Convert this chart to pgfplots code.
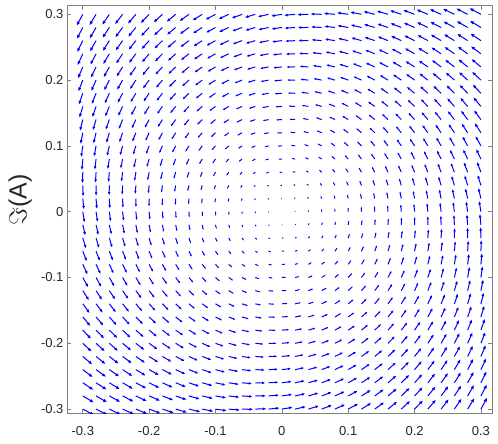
\documentclass[border=0pt]{standalone}
\usepackage{fontspec}
\setmainfont{Liberation Sans}
\usepackage{pgfplots}
\pgfplotsset{compat=1.18}
\usetikzlibrary{arrows.meta}

% field sampled on a 31x31 grid, step 0.02 (u, v in grid units)
\pgfplotstableread{
x y u v
0.02 0 -0.03 1.00
0.04 0 -0.06 2.00
0.06 0 -0.11 2.98
0.08 0 -0.16 3.96
0.10 0 -0.22 4.92
0.12 0 -0.30 5.86
0.14 0 -0.40 6.77
0.16 0 -0.52 7.66
0.18 0 -0.67 8.51
0.20 0 -0.84 9.33
0.22 0 -1.04 10.11
0.24 0 -1.26 10.85
0.26 0 -1.52 11.53
0.28 0 -1.80 12.17
0.30 0 -2.10 12.75
0.02 0.02 -1.03 0.97
0.04 0.02 -1.06 1.96
0.06 0.02 -1.10 2.94
0.08 0.02 -1.15 3.92
0.10 0.02 -1.21 4.87
0.12 0.02 -1.28 5.80
0.14 0.02 -1.37 6.71
0.16 0.02 -1.49 7.59
0.18 0.02 -1.62 8.43
0.20 0.02 -1.78 9.24
0.22 0.02 -1.96 10.01
0.24 0.02 -2.17 10.73
0.26 0.02 -2.41 11.41
0.28 0.02 -2.67 12.03
0.30 0.02 -2.96 12.60
0.02 0.04 -2.03 0.93
0.04 0.04 -2.06 1.92
0.06 0.04 -2.10 2.90
0.08 0.04 -2.14 3.86
0.10 0.04 -2.19 4.81
0.12 0.04 -2.26 5.74
0.14 0.04 -2.35 6.63
0.16 0.04 -2.45 7.50
0.18 0.04 -2.57 8.34
0.20 0.04 -2.72 9.13
0.22 0.04 -2.89 9.89
0.24 0.04 -3.09 10.60
0.26 0.04 -3.31 11.26
0.28 0.04 -3.55 11.87
0.30 0.04 -3.82 12.42
0.02 0.06 -3.02 0.89
0.04 0.06 -3.05 1.87
0.06 0.06 -3.09 2.84
0.08 0.06 -3.13 3.80
0.10 0.06 -3.18 4.74
0.12 0.06 -3.24 5.65
0.14 0.06 -3.32 6.54
0.16 0.06 -3.42 7.40
0.18 0.06 -3.53 8.22
0.20 0.06 -3.67 9.01
0.22 0.06 -3.82 9.75
0.24 0.06 -4.01 10.45
0.26 0.06 -4.21 11.09
0.28 0.06 -4.44 11.69
0.30 0.06 -4.69 12.22
0.02 0.08 -3.99 0.83
0.04 0.08 -4.03 1.81
0.06 0.08 -4.07 2.77
0.08 0.08 -4.11 3.72
0.10 0.08 -4.16 4.65
0.12 0.08 -4.22 5.56
0.14 0.08 -4.29 6.43
0.16 0.08 -4.38 7.28
0.18 0.08 -4.48 8.09
0.20 0.08 -4.61 8.86
0.22 0.08 -4.76 9.59
0.24 0.08 -4.92 10.27
0.26 0.08 -5.11 10.90
0.28 0.08 -5.32 11.48
0.30 0.08 -5.55 12.00
0.02 0.10 -4.96 0.76
0.04 0.10 -5.00 1.73
0.06 0.10 -5.03 2.69
0.08 0.10 -5.08 3.63
0.10 0.10 -5.12 4.54
0.12 0.10 -5.18 5.44
0.14 0.10 -5.25 6.30
0.16 0.10 -5.33 7.13
0.18 0.10 -5.43 7.93
0.20 0.10 -5.55 8.68
0.22 0.10 -5.68 9.40
0.24 0.10 -5.83 10.06
0.26 0.10 -6.01 10.68
0.28 0.10 -6.20 11.24
0.30 0.10 -6.41 11.75
0.02 0.12 -5.90 0.67
0.04 0.12 -5.95 1.63
0.06 0.12 -5.99 2.58
0.08 0.12 -6.03 3.51
0.10 0.12 -6.08 4.41
0.12 0.12 -6.13 5.29
0.14 0.12 -6.19 6.14
0.16 0.12 -6.27 6.96
0.18 0.12 -6.36 7.74
0.20 0.12 -6.47 8.48
0.22 0.12 -6.59 9.18
0.24 0.12 -6.74 9.83
0.26 0.12 -6.90 10.43
0.28 0.12 -7.07 10.97
0.30 0.12 -7.27 11.46
0.02 0.14 -6.82 0.56
0.04 0.14 -6.87 1.51
0.06 0.14 -6.92 2.45
0.08 0.14 -6.96 3.36
0.10 0.14 -7.01 4.26
0.12 0.14 -7.06 5.13
0.14 0.14 -7.12 5.96
0.16 0.14 -7.20 6.76
0.18 0.14 -7.28 7.53
0.20 0.14 -7.38 8.25
0.22 0.14 -7.49 8.93
0.24 0.14 -7.62 9.56
0.26 0.14 -7.77 10.15
0.28 0.14 -7.93 10.67
0.30 0.14 -8.10 11.14
0.02 0.16 -7.72 0.43
0.04 0.16 -7.77 1.37
0.06 0.16 -7.82 2.29
0.08 0.16 -7.87 3.20
0.10 0.16 -7.92 4.08
0.12 0.16 -7.97 4.93
0.14 0.16 -8.03 5.75
0.16 0.16 -8.10 6.54
0.18 0.16 -8.18 7.28
0.20 0.16 -8.27 7.99
0.22 0.16 -8.37 8.65
0.24 0.16 -8.49 9.27
0.26 0.16 -8.62 9.83
0.28 0.16 -8.76 10.34
0.30 0.16 -8.92 10.79
0.02 0.18 -8.58 0.27
0.04 0.18 -8.64 1.20
0.06 0.18 -8.70 2.11
0.08 0.18 -8.75 3.00
0.10 0.18 -8.80 3.86
0.12 0.18 -8.85 4.70
0.14 0.18 -8.91 5.51
0.16 0.18 -8.97 6.27
0.18 0.18 -9.05 7.01
0.20 0.18 -9.13 7.69
0.22 0.18 -9.22 8.34
0.24 0.18 -9.33 8.94
0.26 0.18 -9.45 9.48
0.28 0.18 -9.57 9.97
0.30 0.18 -9.71 10.40
0.02 0.20 -9.41 0.09
0.04 0.20 -9.48 1.00
0.06 0.20 -9.54 1.90
0.08 0.20 -9.59 2.77
0.10 0.20 -9.65 3.62
0.12 0.20 -9.70 4.44
0.14 0.20 -9.76 5.23
0.16 0.20 -9.82 5.98
0.18 0.20 -9.89 6.69
0.20 0.20 -9.96 7.36
0.22 0.20 -10.05 7.99
0.24 0.20 -10.14 8.57
0.26 0.20 -10.24 9.09
0.28 0.20 -10.35 9.57
0.30 0.20 -10.47 9.98
0.02 0.22 -10.20 -0.12
0.04 0.22 -10.27 0.77
0.06 0.22 -10.34 1.66
0.08 0.22 -10.40 2.51
0.10 0.22 -10.46 3.35
0.12 0.22 -10.51 4.15
0.14 0.22 -10.57 4.92
0.16 0.22 -10.63 5.65
0.18 0.22 -10.69 6.35
0.20 0.22 -10.76 7.00
0.22 0.22 -10.84 7.61
0.24 0.22 -10.92 8.17
0.26 0.22 -11.01 8.67
0.28 0.22 -11.10 9.13
0.30 0.22 -11.20 9.52
0.02 0.24 -10.94 -0.37
0.04 0.24 -11.03 0.52
0.06 0.24 -11.10 1.38
0.08 0.24 -11.17 2.22
0.10 0.24 -11.23 3.04
0.12 0.24 -11.29 3.82
0.14 0.24 -11.34 4.57
0.16 0.24 -11.40 5.29
0.18 0.24 -11.46 5.97
0.20 0.24 -11.52 6.60
0.22 0.24 -11.59 7.19
0.24 0.24 -11.66 7.73
0.26 0.24 -11.73 8.22
0.28 0.24 -11.81 8.65
0.30 0.24 -11.88 9.03
0.02 0.26 -11.64 -0.64
0.04 0.26 -11.73 0.23
0.06 0.26 -11.82 1.08
0.08 0.26 -11.89 1.90
0.10 0.26 -11.95 2.70
0.12 0.26 -12.01 3.46
0.14 0.26 -12.07 4.20
0.16 0.26 -12.12 4.89
0.18 0.26 -12.18 5.55
0.20 0.26 -12.23 6.16
0.22 0.26 -12.29 6.73
0.24 0.26 -12.35 7.25
0.26 0.26 -12.41 7.72
0.28 0.26 -12.47 8.14
0.30 0.26 -12.52 8.50
0.02 0.28 -12.29 -0.93
0.04 0.28 -12.39 -0.09
0.06 0.28 -12.48 0.74
0.08 0.28 -12.56 1.54
0.10 0.28 -12.63 2.32
0.12 0.28 -12.69 3.07
0.14 0.28 -12.75 3.78
0.16 0.28 -12.80 4.46
0.18 0.28 -12.85 5.10
0.20 0.28 -12.90 5.69
0.22 0.28 -12.95 6.24
0.24 0.28 -12.99 6.74
0.26 0.28 -13.03 7.19
0.28 0.28 -13.07 7.59
0.30 0.28 -13.11 7.94
0.02 0.30 -12.88 -1.26
0.04 0.30 -12.99 -0.43
0.06 0.30 -13.09 0.38
0.08 0.30 -13.17 1.16
0.10 0.30 -13.25 1.92
0.12 0.30 -13.31 2.64
0.14 0.30 -13.37 3.34
0.16 0.30 -13.42 3.99
0.18 0.30 -13.46 4.61
0.20 0.30 -13.51 5.19
0.22 0.30 -13.54 5.72
0.24 0.30 -13.58 6.20
0.26 0.30 -13.60 6.63
0.28 0.30 -13.63 7.02
0.30 0.30 -13.64 7.34
0 0.02 -1.00 -0.03
0 0.04 -2.00 -0.06
0 0.06 -2.98 -0.11
0 0.08 -3.96 -0.16
0 0.10 -4.92 -0.22
0 0.12 -5.86 -0.30
0 0.14 -6.77 -0.40
0 0.16 -7.66 -0.52
0 0.18 -8.51 -0.67
0 0.20 -9.33 -0.84
0 0.22 -10.11 -1.04
0 0.24 -10.85 -1.26
0 0.26 -11.53 -1.52
0 0.28 -12.17 -1.80
0 0.30 -12.75 -2.10
-0.02 0.02 -0.97 -1.03
-0.02 0.04 -1.96 -1.06
-0.02 0.06 -2.94 -1.10
-0.02 0.08 -3.92 -1.15
-0.02 0.10 -4.87 -1.21
-0.02 0.12 -5.80 -1.28
-0.02 0.14 -6.71 -1.37
-0.02 0.16 -7.59 -1.49
-0.02 0.18 -8.43 -1.62
-0.02 0.20 -9.24 -1.78
-0.02 0.22 -10.01 -1.96
-0.02 0.24 -10.73 -2.17
-0.02 0.26 -11.41 -2.41
-0.02 0.28 -12.03 -2.67
-0.02 0.30 -12.60 -2.96
-0.04 0.02 -0.93 -2.03
-0.04 0.04 -1.92 -2.06
-0.04 0.06 -2.90 -2.10
-0.04 0.08 -3.86 -2.14
-0.04 0.10 -4.81 -2.19
-0.04 0.12 -5.74 -2.26
-0.04 0.14 -6.63 -2.35
-0.04 0.16 -7.50 -2.45
-0.04 0.18 -8.34 -2.57
-0.04 0.20 -9.13 -2.72
-0.04 0.22 -9.89 -2.89
-0.04 0.24 -10.60 -3.09
-0.04 0.26 -11.26 -3.31
-0.04 0.28 -11.87 -3.55
-0.04 0.30 -12.42 -3.82
-0.06 0.02 -0.89 -3.02
-0.06 0.04 -1.87 -3.05
-0.06 0.06 -2.84 -3.09
-0.06 0.08 -3.80 -3.13
-0.06 0.10 -4.74 -3.18
-0.06 0.12 -5.65 -3.24
-0.06 0.14 -6.54 -3.32
-0.06 0.16 -7.40 -3.42
-0.06 0.18 -8.22 -3.53
-0.06 0.20 -9.01 -3.67
-0.06 0.22 -9.75 -3.82
-0.06 0.24 -10.45 -4.01
-0.06 0.26 -11.09 -4.21
-0.06 0.28 -11.69 -4.44
-0.06 0.30 -12.22 -4.69
-0.08 0.02 -0.83 -3.99
-0.08 0.04 -1.81 -4.03
-0.08 0.06 -2.77 -4.07
-0.08 0.08 -3.72 -4.11
-0.08 0.10 -4.65 -4.16
-0.08 0.12 -5.56 -4.22
-0.08 0.14 -6.43 -4.29
-0.08 0.16 -7.28 -4.38
-0.08 0.18 -8.09 -4.48
-0.08 0.20 -8.86 -4.61
-0.08 0.22 -9.59 -4.76
-0.08 0.24 -10.27 -4.92
-0.08 0.26 -10.90 -5.11
-0.08 0.28 -11.48 -5.32
-0.08 0.30 -12.00 -5.55
-0.10 0.02 -0.76 -4.96
-0.10 0.04 -1.73 -5.00
-0.10 0.06 -2.69 -5.03
-0.10 0.08 -3.63 -5.08
-0.10 0.10 -4.54 -5.12
-0.10 0.12 -5.44 -5.18
-0.10 0.14 -6.30 -5.25
-0.10 0.16 -7.13 -5.33
-0.10 0.18 -7.93 -5.43
-0.10 0.20 -8.68 -5.55
-0.10 0.22 -9.40 -5.68
-0.10 0.24 -10.06 -5.83
-0.10 0.26 -10.68 -6.01
-0.10 0.28 -11.24 -6.20
-0.10 0.30 -11.75 -6.41
-0.12 0.02 -0.67 -5.90
-0.12 0.04 -1.63 -5.95
-0.12 0.06 -2.58 -5.99
-0.12 0.08 -3.51 -6.03
-0.12 0.10 -4.41 -6.08
-0.12 0.12 -5.29 -6.13
-0.12 0.14 -6.14 -6.19
-0.12 0.16 -6.96 -6.27
-0.12 0.18 -7.74 -6.36
-0.12 0.20 -8.48 -6.47
-0.12 0.22 -9.18 -6.59
-0.12 0.24 -9.83 -6.74
-0.12 0.26 -10.43 -6.90
-0.12 0.28 -10.97 -7.07
-0.12 0.30 -11.46 -7.27
-0.14 0.02 -0.56 -6.82
-0.14 0.04 -1.51 -6.87
-0.14 0.06 -2.45 -6.92
-0.14 0.08 -3.36 -6.96
-0.14 0.10 -4.26 -7.01
-0.14 0.12 -5.13 -7.06
-0.14 0.14 -5.96 -7.12
-0.14 0.16 -6.76 -7.20
-0.14 0.18 -7.53 -7.28
-0.14 0.20 -8.25 -7.38
-0.14 0.22 -8.93 -7.49
-0.14 0.24 -9.56 -7.62
-0.14 0.26 -10.15 -7.77
-0.14 0.28 -10.67 -7.93
-0.14 0.30 -11.14 -8.10
-0.16 0.02 -0.43 -7.72
-0.16 0.04 -1.37 -7.77
-0.16 0.06 -2.29 -7.82
-0.16 0.08 -3.20 -7.87
-0.16 0.10 -4.08 -7.92
-0.16 0.12 -4.93 -7.97
-0.16 0.14 -5.75 -8.03
-0.16 0.16 -6.54 -8.10
-0.16 0.18 -7.28 -8.18
-0.16 0.20 -7.99 -8.27
-0.16 0.22 -8.65 -8.37
-0.16 0.24 -9.27 -8.49
-0.16 0.26 -9.83 -8.62
-0.16 0.28 -10.34 -8.76
-0.16 0.30 -10.79 -8.92
-0.18 0.02 -0.27 -8.58
-0.18 0.04 -1.20 -8.64
-0.18 0.06 -2.11 -8.70
-0.18 0.08 -3.00 -8.75
-0.18 0.10 -3.86 -8.80
-0.18 0.12 -4.70 -8.85
-0.18 0.14 -5.51 -8.91
-0.18 0.16 -6.27 -8.97
-0.18 0.18 -7.01 -9.05
-0.18 0.20 -7.69 -9.13
-0.18 0.22 -8.34 -9.22
-0.18 0.24 -8.94 -9.33
-0.18 0.26 -9.48 -9.45
-0.18 0.28 -9.97 -9.57
-0.18 0.30 -10.40 -9.71
-0.20 0.02 -0.09 -9.41
-0.20 0.04 -1.00 -9.48
-0.20 0.06 -1.90 -9.54
-0.20 0.08 -2.77 -9.59
-0.20 0.10 -3.62 -9.65
-0.20 0.12 -4.44 -9.70
-0.20 0.14 -5.23 -9.76
-0.20 0.16 -5.98 -9.82
-0.20 0.18 -6.69 -9.89
-0.20 0.20 -7.36 -9.96
-0.20 0.22 -7.99 -10.05
-0.20 0.24 -8.57 -10.14
-0.20 0.26 -9.09 -10.24
-0.20 0.28 -9.57 -10.35
-0.20 0.30 -9.98 -10.47
-0.22 0.02 0.12 -10.20
-0.22 0.04 -0.77 -10.27
-0.22 0.06 -1.66 -10.34
-0.22 0.08 -2.51 -10.40
-0.22 0.10 -3.35 -10.46
-0.22 0.12 -4.15 -10.51
-0.22 0.14 -4.92 -10.57
-0.22 0.16 -5.65 -10.63
-0.22 0.18 -6.35 -10.69
-0.22 0.20 -7.00 -10.76
-0.22 0.22 -7.61 -10.84
-0.22 0.24 -8.17 -10.92
-0.22 0.26 -8.67 -11.01
-0.22 0.28 -9.13 -11.10
-0.22 0.30 -9.52 -11.20
-0.24 0.02 0.37 -10.94
-0.24 0.04 -0.52 -11.03
-0.24 0.06 -1.38 -11.10
-0.24 0.08 -2.22 -11.17
-0.24 0.10 -3.04 -11.23
-0.24 0.12 -3.82 -11.29
-0.24 0.14 -4.57 -11.34
-0.24 0.16 -5.29 -11.40
-0.24 0.18 -5.97 -11.46
-0.24 0.20 -6.60 -11.52
-0.24 0.22 -7.19 -11.59
-0.24 0.24 -7.73 -11.66
-0.24 0.26 -8.22 -11.73
-0.24 0.28 -8.65 -11.81
-0.24 0.30 -9.03 -11.88
-0.26 0.02 0.64 -11.64
-0.26 0.04 -0.23 -11.73
-0.26 0.06 -1.08 -11.82
-0.26 0.08 -1.90 -11.89
-0.26 0.10 -2.70 -11.95
-0.26 0.12 -3.46 -12.01
-0.26 0.14 -4.20 -12.07
-0.26 0.16 -4.89 -12.12
-0.26 0.18 -5.55 -12.18
-0.26 0.20 -6.16 -12.23
-0.26 0.22 -6.73 -12.29
-0.26 0.24 -7.25 -12.35
-0.26 0.26 -7.72 -12.41
-0.26 0.28 -8.14 -12.47
-0.26 0.30 -8.50 -12.52
-0.28 0.02 0.93 -12.29
-0.28 0.04 0.09 -12.39
-0.28 0.06 -0.74 -12.48
-0.28 0.08 -1.54 -12.56
-0.28 0.10 -2.32 -12.63
-0.28 0.12 -3.07 -12.69
-0.28 0.14 -3.78 -12.75
-0.28 0.16 -4.46 -12.80
-0.28 0.18 -5.10 -12.85
-0.28 0.20 -5.69 -12.90
-0.28 0.22 -6.24 -12.95
-0.28 0.24 -6.74 -12.99
-0.28 0.26 -7.19 -13.03
-0.28 0.28 -7.59 -13.07
-0.28 0.30 -7.94 -13.11
-0.30 0.02 1.26 -12.88
-0.30 0.04 0.43 -12.99
-0.30 0.06 -0.38 -13.09
-0.30 0.08 -1.16 -13.17
-0.30 0.10 -1.92 -13.25
-0.30 0.12 -2.64 -13.31
-0.30 0.14 -3.34 -13.37
-0.30 0.16 -3.99 -13.42
-0.30 0.18 -4.61 -13.46
-0.30 0.20 -5.19 -13.51
-0.30 0.22 -5.72 -13.54
-0.30 0.24 -6.20 -13.58
-0.30 0.26 -6.63 -13.60
-0.30 0.28 -7.02 -13.63
-0.30 0.30 -7.34 -13.64
-0.02 0 0.03 -1.00
-0.04 0 0.06 -2.00
-0.06 0 0.11 -2.98
-0.08 0 0.16 -3.96
-0.10 0 0.22 -4.92
-0.12 0 0.30 -5.86
-0.14 0 0.40 -6.77
-0.16 0 0.52 -7.66
-0.18 0 0.67 -8.51
-0.20 0 0.84 -9.33
-0.22 0 1.04 -10.11
-0.24 0 1.26 -10.85
-0.26 0 1.52 -11.53
-0.28 0 1.80 -12.17
-0.30 0 2.10 -12.75
-0.02 -0.02 1.03 -0.97
-0.04 -0.02 1.06 -1.96
-0.06 -0.02 1.10 -2.94
-0.08 -0.02 1.15 -3.92
-0.10 -0.02 1.21 -4.87
-0.12 -0.02 1.28 -5.80
-0.14 -0.02 1.37 -6.71
-0.16 -0.02 1.49 -7.59
-0.18 -0.02 1.62 -8.43
-0.20 -0.02 1.78 -9.24
-0.22 -0.02 1.96 -10.01
-0.24 -0.02 2.17 -10.73
-0.26 -0.02 2.41 -11.41
-0.28 -0.02 2.67 -12.03
-0.30 -0.02 2.96 -12.60
-0.02 -0.04 2.03 -0.93
-0.04 -0.04 2.06 -1.92
-0.06 -0.04 2.10 -2.90
-0.08 -0.04 2.14 -3.86
-0.10 -0.04 2.19 -4.81
-0.12 -0.04 2.26 -5.74
-0.14 -0.04 2.35 -6.63
-0.16 -0.04 2.45 -7.50
-0.18 -0.04 2.57 -8.34
-0.20 -0.04 2.72 -9.13
-0.22 -0.04 2.89 -9.89
-0.24 -0.04 3.09 -10.60
-0.26 -0.04 3.31 -11.26
-0.28 -0.04 3.55 -11.87
-0.30 -0.04 3.82 -12.42
-0.02 -0.06 3.02 -0.89
-0.04 -0.06 3.05 -1.87
-0.06 -0.06 3.09 -2.84
-0.08 -0.06 3.13 -3.80
-0.10 -0.06 3.18 -4.74
-0.12 -0.06 3.24 -5.65
-0.14 -0.06 3.32 -6.54
-0.16 -0.06 3.42 -7.40
-0.18 -0.06 3.53 -8.22
-0.20 -0.06 3.67 -9.01
-0.22 -0.06 3.82 -9.75
-0.24 -0.06 4.01 -10.45
-0.26 -0.06 4.21 -11.09
-0.28 -0.06 4.44 -11.69
-0.30 -0.06 4.69 -12.22
-0.02 -0.08 3.99 -0.83
-0.04 -0.08 4.03 -1.81
-0.06 -0.08 4.07 -2.77
-0.08 -0.08 4.11 -3.72
-0.10 -0.08 4.16 -4.65
-0.12 -0.08 4.22 -5.56
-0.14 -0.08 4.29 -6.43
-0.16 -0.08 4.38 -7.28
-0.18 -0.08 4.48 -8.09
-0.20 -0.08 4.61 -8.86
-0.22 -0.08 4.76 -9.59
-0.24 -0.08 4.92 -10.27
-0.26 -0.08 5.11 -10.90
-0.28 -0.08 5.32 -11.48
-0.30 -0.08 5.55 -12.00
-0.02 -0.10 4.96 -0.76
-0.04 -0.10 5.00 -1.73
-0.06 -0.10 5.03 -2.69
-0.08 -0.10 5.08 -3.63
-0.10 -0.10 5.12 -4.54
-0.12 -0.10 5.18 -5.44
-0.14 -0.10 5.25 -6.30
-0.16 -0.10 5.33 -7.13
-0.18 -0.10 5.43 -7.93
-0.20 -0.10 5.55 -8.68
-0.22 -0.10 5.68 -9.40
-0.24 -0.10 5.83 -10.06
-0.26 -0.10 6.01 -10.68
-0.28 -0.10 6.20 -11.24
-0.30 -0.10 6.41 -11.75
-0.02 -0.12 5.90 -0.67
-0.04 -0.12 5.95 -1.63
-0.06 -0.12 5.99 -2.58
-0.08 -0.12 6.03 -3.51
-0.10 -0.12 6.08 -4.41
-0.12 -0.12 6.13 -5.29
-0.14 -0.12 6.19 -6.14
-0.16 -0.12 6.27 -6.96
-0.18 -0.12 6.36 -7.74
-0.20 -0.12 6.47 -8.48
-0.22 -0.12 6.59 -9.18
-0.24 -0.12 6.74 -9.83
-0.26 -0.12 6.90 -10.43
-0.28 -0.12 7.07 -10.97
-0.30 -0.12 7.27 -11.46
-0.02 -0.14 6.82 -0.56
-0.04 -0.14 6.87 -1.51
-0.06 -0.14 6.92 -2.45
-0.08 -0.14 6.96 -3.36
-0.10 -0.14 7.01 -4.26
-0.12 -0.14 7.06 -5.13
-0.14 -0.14 7.12 -5.96
-0.16 -0.14 7.20 -6.76
-0.18 -0.14 7.28 -7.53
-0.20 -0.14 7.38 -8.25
-0.22 -0.14 7.49 -8.93
-0.24 -0.14 7.62 -9.56
-0.26 -0.14 7.77 -10.15
-0.28 -0.14 7.93 -10.67
-0.30 -0.14 8.10 -11.14
-0.02 -0.16 7.72 -0.43
-0.04 -0.16 7.77 -1.37
-0.06 -0.16 7.82 -2.29
-0.08 -0.16 7.87 -3.20
-0.10 -0.16 7.92 -4.08
-0.12 -0.16 7.97 -4.93
-0.14 -0.16 8.03 -5.75
-0.16 -0.16 8.10 -6.54
-0.18 -0.16 8.18 -7.28
-0.20 -0.16 8.27 -7.99
-0.22 -0.16 8.37 -8.65
-0.24 -0.16 8.49 -9.27
-0.26 -0.16 8.62 -9.83
-0.28 -0.16 8.76 -10.34
-0.30 -0.16 8.92 -10.79
-0.02 -0.18 8.58 -0.27
-0.04 -0.18 8.64 -1.20
-0.06 -0.18 8.70 -2.11
-0.08 -0.18 8.75 -3.00
-0.10 -0.18 8.80 -3.86
-0.12 -0.18 8.85 -4.70
-0.14 -0.18 8.91 -5.51
-0.16 -0.18 8.97 -6.27
-0.18 -0.18 9.05 -7.01
-0.20 -0.18 9.13 -7.69
-0.22 -0.18 9.22 -8.34
-0.24 -0.18 9.33 -8.94
-0.26 -0.18 9.45 -9.48
-0.28 -0.18 9.57 -9.97
-0.30 -0.18 9.71 -10.40
-0.02 -0.20 9.41 -0.09
-0.04 -0.20 9.48 -1.00
-0.06 -0.20 9.54 -1.90
-0.08 -0.20 9.59 -2.77
-0.10 -0.20 9.65 -3.62
-0.12 -0.20 9.70 -4.44
-0.14 -0.20 9.76 -5.23
-0.16 -0.20 9.82 -5.98
-0.18 -0.20 9.89 -6.69
-0.20 -0.20 9.96 -7.36
-0.22 -0.20 10.05 -7.99
-0.24 -0.20 10.14 -8.57
-0.26 -0.20 10.24 -9.09
-0.28 -0.20 10.35 -9.57
-0.30 -0.20 10.47 -9.98
-0.02 -0.22 10.20 0.12
-0.04 -0.22 10.27 -0.77
-0.06 -0.22 10.34 -1.66
-0.08 -0.22 10.40 -2.51
-0.10 -0.22 10.46 -3.35
-0.12 -0.22 10.51 -4.15
-0.14 -0.22 10.57 -4.92
-0.16 -0.22 10.63 -5.65
-0.18 -0.22 10.69 -6.35
-0.20 -0.22 10.76 -7.00
-0.22 -0.22 10.84 -7.61
-0.24 -0.22 10.92 -8.17
-0.26 -0.22 11.01 -8.67
-0.28 -0.22 11.10 -9.13
-0.30 -0.22 11.20 -9.52
-0.02 -0.24 10.94 0.37
-0.04 -0.24 11.03 -0.52
-0.06 -0.24 11.10 -1.38
-0.08 -0.24 11.17 -2.22
-0.10 -0.24 11.23 -3.04
-0.12 -0.24 11.29 -3.82
-0.14 -0.24 11.34 -4.57
-0.16 -0.24 11.40 -5.29
-0.18 -0.24 11.46 -5.97
-0.20 -0.24 11.52 -6.60
-0.22 -0.24 11.59 -7.19
-0.24 -0.24 11.66 -7.73
-0.26 -0.24 11.73 -8.22
-0.28 -0.24 11.81 -8.65
-0.30 -0.24 11.88 -9.03
-0.02 -0.26 11.64 0.64
-0.04 -0.26 11.73 -0.23
-0.06 -0.26 11.82 -1.08
-0.08 -0.26 11.89 -1.90
-0.10 -0.26 11.95 -2.70
-0.12 -0.26 12.01 -3.46
-0.14 -0.26 12.07 -4.20
-0.16 -0.26 12.12 -4.89
-0.18 -0.26 12.18 -5.55
-0.20 -0.26 12.23 -6.16
-0.22 -0.26 12.29 -6.73
-0.24 -0.26 12.35 -7.25
-0.26 -0.26 12.41 -7.72
-0.28 -0.26 12.47 -8.14
-0.30 -0.26 12.52 -8.50
-0.02 -0.28 12.29 0.93
-0.04 -0.28 12.39 0.09
-0.06 -0.28 12.48 -0.74
-0.08 -0.28 12.56 -1.54
-0.10 -0.28 12.63 -2.32
-0.12 -0.28 12.69 -3.07
-0.14 -0.28 12.75 -3.78
-0.16 -0.28 12.80 -4.46
-0.18 -0.28 12.85 -5.10
-0.20 -0.28 12.90 -5.69
-0.22 -0.28 12.95 -6.24
-0.24 -0.28 12.99 -6.74
-0.26 -0.28 13.03 -7.19
-0.28 -0.28 13.07 -7.59
-0.30 -0.28 13.11 -7.94
-0.02 -0.30 12.88 1.26
-0.04 -0.30 12.99 0.43
-0.06 -0.30 13.09 -0.38
-0.08 -0.30 13.17 -1.16
-0.10 -0.30 13.25 -1.92
-0.12 -0.30 13.31 -2.64
-0.14 -0.30 13.37 -3.34
-0.16 -0.30 13.42 -3.99
-0.18 -0.30 13.46 -4.61
-0.20 -0.30 13.51 -5.19
-0.22 -0.30 13.54 -5.72
-0.24 -0.30 13.58 -6.20
-0.26 -0.30 13.60 -6.63
-0.28 -0.30 13.63 -7.02
-0.30 -0.30 13.64 -7.34
0 -0.02 1.00 0.03
0 -0.04 2.00 0.06
0 -0.06 2.98 0.11
0 -0.08 3.96 0.16
0 -0.10 4.92 0.22
0 -0.12 5.86 0.30
0 -0.14 6.77 0.40
0 -0.16 7.66 0.52
0 -0.18 8.51 0.67
0 -0.20 9.33 0.84
0 -0.22 10.11 1.04
0 -0.24 10.85 1.26
0 -0.26 11.53 1.52
0 -0.28 12.17 1.80
0 -0.30 12.75 2.10
0.02 -0.02 0.97 1.03
0.02 -0.04 1.96 1.06
0.02 -0.06 2.94 1.10
0.02 -0.08 3.92 1.15
0.02 -0.10 4.87 1.21
0.02 -0.12 5.80 1.28
0.02 -0.14 6.71 1.37
0.02 -0.16 7.59 1.49
0.02 -0.18 8.43 1.62
0.02 -0.20 9.24 1.78
0.02 -0.22 10.01 1.96
0.02 -0.24 10.73 2.17
0.02 -0.26 11.41 2.41
0.02 -0.28 12.03 2.67
0.02 -0.30 12.60 2.96
0.04 -0.02 0.93 2.03
0.04 -0.04 1.92 2.06
0.04 -0.06 2.90 2.10
0.04 -0.08 3.86 2.14
0.04 -0.10 4.81 2.19
0.04 -0.12 5.74 2.26
0.04 -0.14 6.63 2.35
0.04 -0.16 7.50 2.45
0.04 -0.18 8.34 2.57
0.04 -0.20 9.13 2.72
0.04 -0.22 9.89 2.89
0.04 -0.24 10.60 3.09
0.04 -0.26 11.26 3.31
0.04 -0.28 11.87 3.55
0.04 -0.30 12.42 3.82
0.06 -0.02 0.89 3.02
0.06 -0.04 1.87 3.05
0.06 -0.06 2.84 3.09
0.06 -0.08 3.80 3.13
0.06 -0.10 4.74 3.18
0.06 -0.12 5.65 3.24
0.06 -0.14 6.54 3.32
0.06 -0.16 7.40 3.42
0.06 -0.18 8.22 3.53
0.06 -0.20 9.01 3.67
0.06 -0.22 9.75 3.82
0.06 -0.24 10.45 4.01
0.06 -0.26 11.09 4.21
0.06 -0.28 11.69 4.44
0.06 -0.30 12.22 4.69
0.08 -0.02 0.83 3.99
0.08 -0.04 1.81 4.03
0.08 -0.06 2.77 4.07
0.08 -0.08 3.72 4.11
0.08 -0.10 4.65 4.16
0.08 -0.12 5.56 4.22
0.08 -0.14 6.43 4.29
0.08 -0.16 7.28 4.38
0.08 -0.18 8.09 4.48
0.08 -0.20 8.86 4.61
0.08 -0.22 9.59 4.76
0.08 -0.24 10.27 4.92
0.08 -0.26 10.90 5.11
0.08 -0.28 11.48 5.32
0.08 -0.30 12.00 5.55
0.10 -0.02 0.76 4.96
0.10 -0.04 1.73 5.00
0.10 -0.06 2.69 5.03
0.10 -0.08 3.63 5.08
0.10 -0.10 4.54 5.12
0.10 -0.12 5.44 5.18
0.10 -0.14 6.30 5.25
0.10 -0.16 7.13 5.33
0.10 -0.18 7.93 5.43
0.10 -0.20 8.68 5.55
0.10 -0.22 9.40 5.68
0.10 -0.24 10.06 5.83
0.10 -0.26 10.68 6.01
0.10 -0.28 11.24 6.20
0.10 -0.30 11.75 6.41
0.12 -0.02 0.67 5.90
0.12 -0.04 1.63 5.95
0.12 -0.06 2.58 5.99
0.12 -0.08 3.51 6.03
0.12 -0.10 4.41 6.08
0.12 -0.12 5.29 6.13
0.12 -0.14 6.14 6.19
0.12 -0.16 6.96 6.27
0.12 -0.18 7.74 6.36
0.12 -0.20 8.48 6.47
0.12 -0.22 9.18 6.59
0.12 -0.24 9.83 6.74
0.12 -0.26 10.43 6.90
0.12 -0.28 10.97 7.07
0.12 -0.30 11.46 7.27
0.14 -0.02 0.56 6.82
0.14 -0.04 1.51 6.87
0.14 -0.06 2.45 6.92
0.14 -0.08 3.36 6.96
0.14 -0.10 4.26 7.01
0.14 -0.12 5.13 7.06
0.14 -0.14 5.96 7.12
0.14 -0.16 6.76 7.20
0.14 -0.18 7.53 7.28
0.14 -0.20 8.25 7.38
0.14 -0.22 8.93 7.49
0.14 -0.24 9.56 7.62
0.14 -0.26 10.15 7.77
0.14 -0.28 10.67 7.93
0.14 -0.30 11.14 8.10
0.16 -0.02 0.43 7.72
0.16 -0.04 1.37 7.77
0.16 -0.06 2.29 7.82
0.16 -0.08 3.20 7.87
0.16 -0.10 4.08 7.92
0.16 -0.12 4.93 7.97
0.16 -0.14 5.75 8.03
0.16 -0.16 6.54 8.10
0.16 -0.18 7.28 8.18
0.16 -0.20 7.99 8.27
0.16 -0.22 8.65 8.37
0.16 -0.24 9.27 8.49
0.16 -0.26 9.83 8.62
0.16 -0.28 10.34 8.76
0.16 -0.30 10.79 8.92
0.18 -0.02 0.27 8.58
0.18 -0.04 1.20 8.64
0.18 -0.06 2.11 8.70
0.18 -0.08 3.00 8.75
0.18 -0.10 3.86 8.80
0.18 -0.12 4.70 8.85
0.18 -0.14 5.51 8.91
0.18 -0.16 6.27 8.97
0.18 -0.18 7.01 9.05
0.18 -0.20 7.69 9.13
0.18 -0.22 8.34 9.22
0.18 -0.24 8.94 9.33
0.18 -0.26 9.48 9.45
0.18 -0.28 9.97 9.57
0.18 -0.30 10.40 9.71
0.20 -0.02 0.09 9.41
0.20 -0.04 1.00 9.48
0.20 -0.06 1.90 9.54
0.20 -0.08 2.77 9.59
0.20 -0.10 3.62 9.65
0.20 -0.12 4.44 9.70
0.20 -0.14 5.23 9.76
0.20 -0.16 5.98 9.82
0.20 -0.18 6.69 9.89
0.20 -0.20 7.36 9.96
0.20 -0.22 7.99 10.05
0.20 -0.24 8.57 10.14
0.20 -0.26 9.09 10.24
0.20 -0.28 9.57 10.35
0.20 -0.30 9.98 10.47
0.22 -0.02 -0.12 10.20
0.22 -0.04 0.77 10.27
0.22 -0.06 1.66 10.34
0.22 -0.08 2.51 10.40
0.22 -0.10 3.35 10.46
0.22 -0.12 4.15 10.51
0.22 -0.14 4.92 10.57
0.22 -0.16 5.65 10.63
0.22 -0.18 6.35 10.69
0.22 -0.20 7.00 10.76
0.22 -0.22 7.61 10.84
0.22 -0.24 8.17 10.92
0.22 -0.26 8.67 11.01
0.22 -0.28 9.13 11.10
0.22 -0.30 9.52 11.20
0.24 -0.02 -0.37 10.94
0.24 -0.04 0.52 11.03
0.24 -0.06 1.38 11.10
0.24 -0.08 2.22 11.17
0.24 -0.10 3.04 11.23
0.24 -0.12 3.82 11.29
0.24 -0.14 4.57 11.34
0.24 -0.16 5.29 11.40
0.24 -0.18 5.97 11.46
0.24 -0.20 6.60 11.52
0.24 -0.22 7.19 11.59
0.24 -0.24 7.73 11.66
0.24 -0.26 8.22 11.73
0.24 -0.28 8.65 11.81
0.24 -0.30 9.03 11.88
0.26 -0.02 -0.64 11.64
0.26 -0.04 0.23 11.73
0.26 -0.06 1.08 11.82
0.26 -0.08 1.90 11.89
0.26 -0.10 2.70 11.95
0.26 -0.12 3.46 12.01
0.26 -0.14 4.20 12.07
0.26 -0.16 4.89 12.12
0.26 -0.18 5.55 12.18
0.26 -0.20 6.16 12.23
0.26 -0.22 6.73 12.29
0.26 -0.24 7.25 12.35
0.26 -0.26 7.72 12.41
0.26 -0.28 8.14 12.47
0.26 -0.30 8.50 12.52
0.28 -0.02 -0.93 12.29
0.28 -0.04 -0.09 12.39
0.28 -0.06 0.74 12.48
0.28 -0.08 1.54 12.56
0.28 -0.10 2.32 12.63
0.28 -0.12 3.07 12.69
0.28 -0.14 3.78 12.75
0.28 -0.16 4.46 12.80
0.28 -0.18 5.10 12.85
0.28 -0.20 5.69 12.90
0.28 -0.22 6.24 12.95
0.28 -0.24 6.74 12.99
0.28 -0.26 7.19 13.03
0.28 -0.28 7.59 13.07
0.28 -0.30 7.94 13.11
0.30 -0.02 -1.26 12.88
0.30 -0.04 -0.43 12.99
0.30 -0.06 0.38 13.09
0.30 -0.08 1.16 13.17
0.30 -0.10 1.92 13.25
0.30 -0.12 2.64 13.31
0.30 -0.14 3.34 13.37
0.30 -0.16 3.99 13.42
0.30 -0.18 4.61 13.46
0.30 -0.20 5.19 13.51
0.30 -0.22 5.72 13.54
0.30 -0.24 6.20 13.58
0.30 -0.26 6.63 13.60
0.30 -0.28 7.02 13.63
0.30 -0.30 7.34 13.64
}\field

% arrow heads grow with the arrow, as in MATLAB quiver
\tikzset{headsz/.code={%
  \pgfmathsetmacro\hl{max(0.3,4.2*\pgfplotspointmetatransformed/1000)}%
  \pgfmathsetmacro\hw{0.85*\hl}%
  \tikzset{-{Latex[length=\hl pt,width=\hw pt]}}}}

\begin{document}
\begin{tikzpicture}
\useasboundingbox (0,0) rectangle (498pt,444pt);
\begin{axis}[
    at={(67pt,30.7pt)}, anchor=south west,
    scale only axis, width=425pt, height=407.6pt,
    xmin=-0.3238, xmax=0.3167, ymin=-0.3064, ymax=0.3131,
    xtick={-0.3,-0.2,-0.1,0,0.1,0.2,0.3},
    ytick={-0.3,-0.2,-0.1,0,0.1,0.2,0.3},
    xticklabels={-0.3,-0.2,-0.1,0,0.1,0.2,0.3},
    yticklabels={-0.3,-0.2,-0.1,0,0.1,0.2,0.3},
    tick label style={font=\fontsize{13}{15}\selectfont, text=black!85},
    xticklabel style={yshift=-10pt},
    major tick length=4pt,
    axis line style={black!50, line width=0.6pt},
    every tick/.style={black!50, line width=0.6pt},
    ylabel={$\Im$(A)},
    ylabel style={at={(axis description cs:-0.11,0.523)}, anchor=center,
        font=\fontsize{25}{29}\selectfont, text=black!85},
]
\addplot[blue, line width=1pt,
    point meta={sqrt(\thisrow{u}^2+\thisrow{v}^2)},
    point meta min=0, point meta max=15.5,
    quiver={u=\thisrow{u}, v=\thisrow{v}, scale arrows=0.00128,
        every arrow/.append style={headsz}}]
    table[x=x, y=y] {\field};
\end{axis}
\end{tikzpicture}
\end{document}
